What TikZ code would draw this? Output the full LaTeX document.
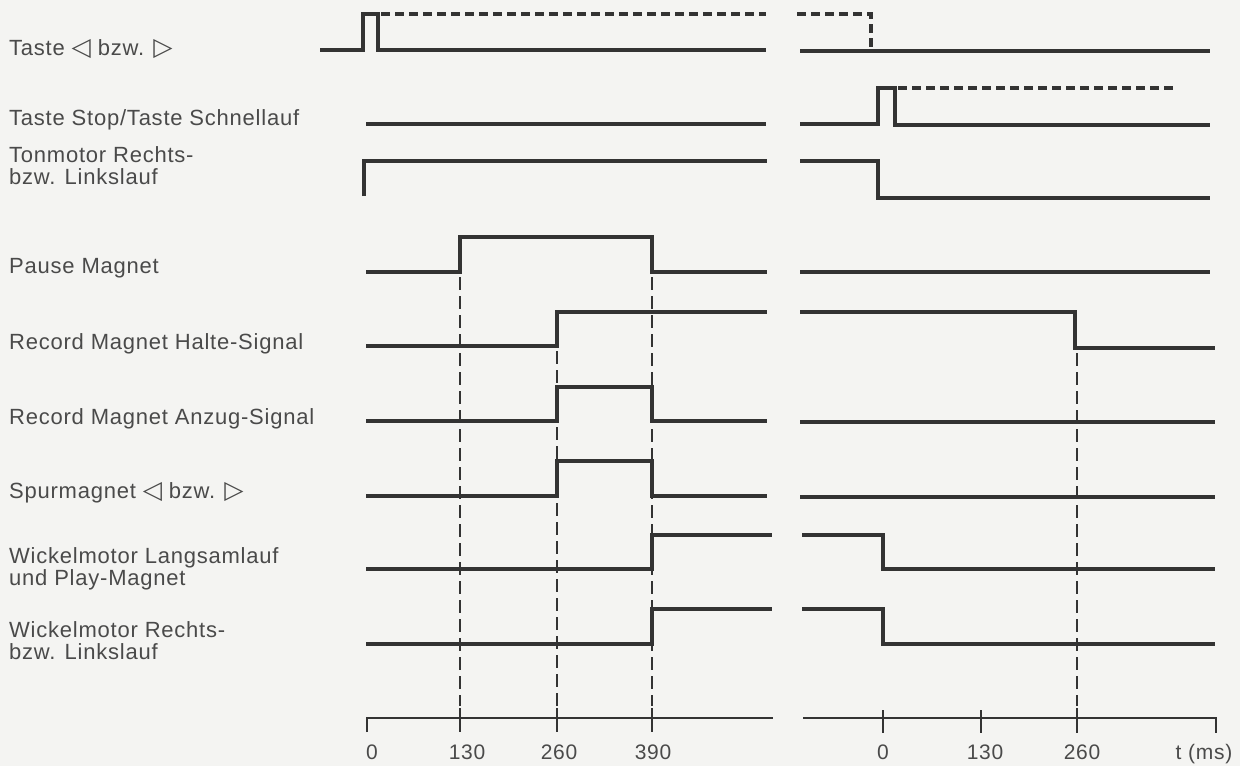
\documentclass[tikz,border=0pt]{standalone}
\usepackage{fontspec}
\setmainfont{Liberation Sans}[LetterSpace=3.5]
\newfontfamily\symfont{DejaVu Sans}
\newcommand{\ltri}{{\symfont\fontsize{25}{25}\selectfont ◁}}
\newcommand{\rtri}{{\symfont\fontsize{25}{25}\selectfont ▷}}
\begin{document}
\begin{tikzpicture}[x=1pt,y=-1pt,
  sig/.style={line width=3.2pt,draw=sigcol,line join=miter,line cap=butt},
  sigdash/.style={line width=3.2pt,draw=sigcol,dash pattern=on 9pt off 5pt},
  guide/.style={line width=2.2pt,draw=sigcol,dash pattern=on 13pt off 6pt},
  axis/.style={line width=2.2pt,draw=sigcol},
  tick/.style={line width=2.4pt,draw=sigcol},
  lab/.style={anchor=base west,inner sep=0pt,text=txtcol,font=\fontsize{22}{22}\selectfont,align=left},
  num/.style={anchor=base,inner sep=0pt,text=txtcol,font=\fontsize{21}{24}\selectfont}]
\definecolor{sigcol}{HTML}{333333}
\definecolor{txtcol}{HTML}{4A4A4A}
\definecolor{bgcol}{HTML}{F4F4F2}
\fill[bgcol] (0,0) rectangle (1240,766);
\useasboundingbox (0,0) rectangle (1240,766);

% labels (anchor = baseline of the last line)
\node[lab] (l1) at (9,55) {Taste \ltri\ bzw. \rtri};
\node[lab] (l2) at (9,125) {Taste Stop/Taste Schnellauf};
\node[lab] (l3) at (9,184) {Tonmotor Rechts-\\bzw. Linkslauf};
\node[lab] (l4) at (9,273) {Pause Magnet};
\node[lab] (l5) at (9,349) {Record Magnet Halte-Signal};
\node[lab] (l6) at (9,424) {Record Magnet Anzug-Signal};
\node[lab] (l7) at (9,498) {Spurmagnet \ltri\ bzw. \rtri};
\node[lab] (l8) at (9,585) {Wickelmotor Langsamlauf\\und Play-Magnet};
\node[lab] (l9) at (9,659) {Wickelmotor Rechts-\\bzw. Linkslauf};

% row 1
\draw[sig] (320,50) -- (363,50) -- (363,14) -- (378,14) -- (378,50) -- (766,50);
\draw[sigdash] (381,14) -- (766,14);
\draw[sig] (800,51) -- (1210,51);
\draw[sigdash] (797,14) -- (871,14) -- (871,51);
% row 2
\draw[sig] (366,124) -- (766,124);
\draw[sig] (800,124) -- (878,124) -- (878,88) -- (895,88) -- (895,125) -- (1210,125);
\draw[sigdash] (898,88) -- (1175,88);
% row 3
\draw[sig] (364,196) -- (364,161) -- (767,161);
\draw[sig] (800,161) -- (878,161) -- (878,198) -- (1210,198);
% row 4
\draw[sig] (366,272) -- (460,272) -- (460,237) -- (652,237) -- (652,272) -- (767,272);
\draw[sig] (800,272) -- (1210,272);
% row 5
\draw[sig] (366,346) -- (557,346) -- (557,312) -- (767,312);
\draw[sig] (800,312) -- (1075,312) -- (1075,348) -- (1215,348);
% row 6
\draw[sig] (366,421) -- (557,421) -- (557,387) -- (652,387) -- (652,421) -- (767,421);
\draw[sig] (800,422) -- (1215,422);
% row 7
\draw[sig] (366,496) -- (557,496) -- (557,461) -- (652,461) -- (652,496) -- (767,496);
\draw[sig] (800,497) -- (1215,497);
% row 8
\draw[sig] (366,569) -- (652,569) -- (652,535) -- (772,535);
\draw[sig] (802,535) -- (883,535) -- (883,569) -- (1215,569);
% row 9
\draw[sig] (366,644) -- (652,644) -- (652,609) -- (772,609);
\draw[sig] (802,609) -- (883,609) -- (883,644) -- (1215,644);

% guides
\draw[guide] (460,277) -- (460,706);
\draw[guide] (557,351) -- (557,706);
\draw[guide] (652,277) -- (652,706);
\draw[guide] (1077,353) -- (1077,706);

% axes
\draw[axis] (367,732) -- (367,718) -- (773,718);
\foreach \x in {460,557,652} \draw[tick] (\x,708) -- (\x,732);
\draw[axis] (803,718) -- (1216,718) -- (1216,733);
\foreach \x in {883,981} \draw[tick] (\x,710) -- (\x,733);
\draw[tick] (1077,708) -- (1077,733);

% axis numbers
\node[num] (n0) at (372,759) {0};
\node[num] (n1) at (467,759) {130};
\node[num] (n2) at (559,759) {260};
\node[num] (n3) at (653,759) {390};
\node[num] (m0) at (883,759) {0};
\node[num] (m1) at (985,759) {130};
\node[num] (m2) at (1082,759) {260};
\node[num] (mt) at (1204,759) {t (ms)};
\end{tikzpicture}
\end{document}
